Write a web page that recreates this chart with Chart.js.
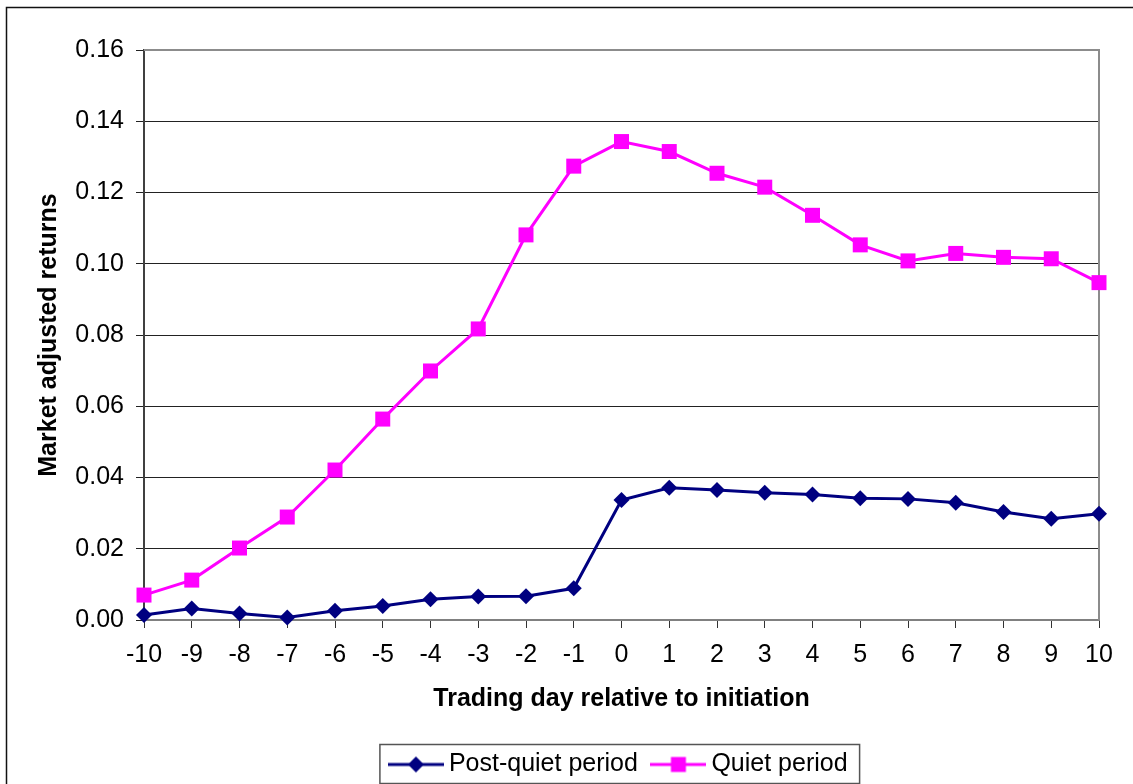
<!DOCTYPE html>
<html>
<head>
<meta charset="utf-8">
<script src="https://cdn.jsdelivr.net/npm/chart.js@4.4.0/dist/chart.umd.min.js"></script>
<style>
  html, body { margin: 0; padding: 0; background: #fff; }
  #wrap { position: relative; width: 1133px; height: 784px; }
</style>
</head>
<body>
<div id="wrap"><canvas id="returnsChart"></canvas></div>
<script>
// data
const days = ['-10', '-9', '-8', '-7', '-6', '-5', '-4', '-3', '-2', '-1', '0',
              '1', '2', '3', '4', '5', '6', '7', '8', '9', '10'];
const postQuiet = [0.0014, 0.0032, 0.0018, 0.0007, 0.0026, 0.0039, 0.0058, 0.0066, 0.0067, 0.0089, 0.0337,
                   0.0371, 0.0365, 0.0357, 0.0352, 0.0342, 0.0340, 0.0329, 0.0303, 0.0284, 0.0298];
const quiet = [0.0070, 0.0112, 0.0202, 0.0289, 0.0421, 0.0564, 0.0699, 0.0817, 0.1081, 0.1274, 0.1343,
               0.1315, 0.1254, 0.1215, 0.1136, 0.1053, 0.1008, 0.1029, 0.1018, 0.1014, 0.0947];
const yTicks = [0, 0.02, 0.04, 0.06, 0.08, 0.10, 0.12, 0.14, 0.16];

const NAVY = '#000080';
const MAGENTA = '#FF00FF';
const FONT = '"Liberation Sans", Arial, sans-serif';

// legend icon: short line with the marker in the middle
function makeIcon(color, shape) {
    const c = document.createElement('canvas');
    c.width = 56;
    c.height = 20;
    const g = c.getContext('2d');
    g.strokeStyle = color;
    g.lineWidth = 3;
    g.beginPath();
    g.moveTo(0, 10);
    g.lineTo(56, 10);
    g.stroke();
    g.fillStyle = color;
    if (shape === 'diamond') {
        g.beginPath();
        g.moveTo(28, 2); g.lineTo(36, 10); g.lineTo(28, 18); g.lineTo(20, 10);
        g.closePath();
        g.fill();
    } else {
        g.fillRect(20.5, 2.5, 15, 15);
    }
    return c;
}

// outer frame, plot frame and legend box (legend sits centred under the plot area)
const framePlugin = {
    id: 'frames',
    afterUpdate(chart) {
        const lg = chart.legend;
        const a = chart.chartArea;
        const dx = (a.left + a.right) / 2 - (lg.left + lg.right) / 2;
        const dy = 3;
        lg.left += dx;
        lg.right += dx;
        lg.top += dy;
        lg.bottom += dy;
        (lg.legendHitBoxes || []).forEach(hb => { hb.left += dx; hb.top += dy; });
    },
    beforeDraw(chart) {
        const ctx = chart.ctx;
        ctx.save();
        ctx.strokeStyle = '#111';
        ctx.lineWidth = 1.5;
        ctx.strokeRect(6.5, 7.5, 1140, 800);
        ctx.restore();
    },
    beforeDatasetsDraw(chart) {
        const a = chart.chartArea;
        const ctx = chart.ctx;
        ctx.save();
        ctx.strokeStyle = '#8c8c8c';
        ctx.lineWidth = 2;
        ctx.beginPath();
        ctx.moveTo(a.left, a.top);
        ctx.lineTo(a.right, a.top);
        ctx.lineTo(a.right, a.bottom);
        ctx.stroke();
        ctx.restore();
    },
    afterDraw(chart) {
        const hb = chart.legend.legendHitBoxes;
        if (!hb || !hb.length) return;
        const first = hb[0];
        const last = hb[hb.length - 1];
        const mid = first.top + first.height / 2;
        const x0 = first.left - 15.5;
        const x1 = last.left + last.width + 12;
        const ctx = chart.ctx;
        ctx.save();
        ctx.strokeStyle = '#555';
        ctx.lineWidth = 1.5;
        ctx.strokeRect(x0, mid - 20, x1 - x0, 39);
        ctx.restore();
    }
};

const ctx = document.getElementById('returnsChart').getContext('2d');
new Chart(ctx, {
    type: 'line',
    data: {
        labels: days,
        datasets: [{
            label: 'Post-quiet period',
            data: postQuiet,
            borderColor: NAVY,
            backgroundColor: NAVY,
            borderWidth: 3,
            pointStyle: 'rectRot',
            pointRadius: 8,
            pointBorderWidth: 0,
            tension: 0,
            fill: false,
            clip: false
        }, {
            label: 'Quiet period',
            data: quiet,
            borderColor: MAGENTA,
            backgroundColor: MAGENTA,
            borderWidth: 3,
            pointStyle: 'rect',
            pointRadius: 10.6,
            pointBorderWidth: 0,
            tension: 0,
            fill: false,
            clip: false
        }]
    },
    options: {
        responsive: true,
        maintainAspectRatio: false,
        animation: false,
        layout: { padding: { left: 30, right: 34, top: 50, bottom: 0 } },
        plugins: {
            tooltip: { enabled: false },
            legend: {
                display: true,
                position: 'bottom',
                labels: {
                    color: '#000',
                    font: { family: FONT, size: 25 },
                    usePointStyle: true,
                    pointStyleWidth: 41,
                    padding: 20,
                    generateLabels: () => [
                        { text: 'Post-quiet period', pointStyle: makeIcon(NAVY, 'diamond'), fillStyle: NAVY, strokeStyle: NAVY, lineWidth: 0, datasetIndex: 0, hidden: false },
                        { text: 'Quiet period', pointStyle: makeIcon(MAGENTA, 'square'), fillStyle: MAGENTA, strokeStyle: MAGENTA, lineWidth: 0, datasetIndex: 1, hidden: false }
                    ]
                }
            }
        },
        scales: {
            x: {
                type: 'category',
                offset: false,
                afterFit: s => { s.height = 109; },
                grid: { display: true, drawOnChartArea: false, drawTicks: true, tickLength: 8, color: '#333', lineWidth: 1 },
                border: { display: true, color: '#808080', width: 2 },
                ticks: { color: '#000', font: { family: FONT, size: 25 }, padding: 12, maxRotation: 0, autoSkip: false },
                title: {
                    display: true,
                    text: 'Trading day relative to initiation',
                    color: '#000',
                    font: { family: FONT, size: 25, weight: 'bold' },
                    padding: { top: 4, bottom: 15 }
                }
            },
            y: {
                min: 0,
                max: 0.16,
                afterFit: s => { s.width = 114; },
                afterBuildTicks: s => { s.ticks = yTicks.map(v => ({ value: v })); },
                grid: { color: '#222', lineWidth: 1, tickLength: 8 },
                border: { display: true, color: '#404040', width: 2 },
                ticks: {
                    color: '#000',
                    font: { family: FONT, size: 25 },
                    padding: 12,
                    callback: v => v.toFixed(2)
                },
                title: {
                    display: true,
                    text: 'Market adjusted returns',
                    color: '#000',
                    font: { family: FONT, size: 25, weight: 'bold' },
                    padding: { top: 4, bottom: 4 }
                }
            }
        }
    },
    plugins: [framePlugin]
});
</script>
</body>
</html>
